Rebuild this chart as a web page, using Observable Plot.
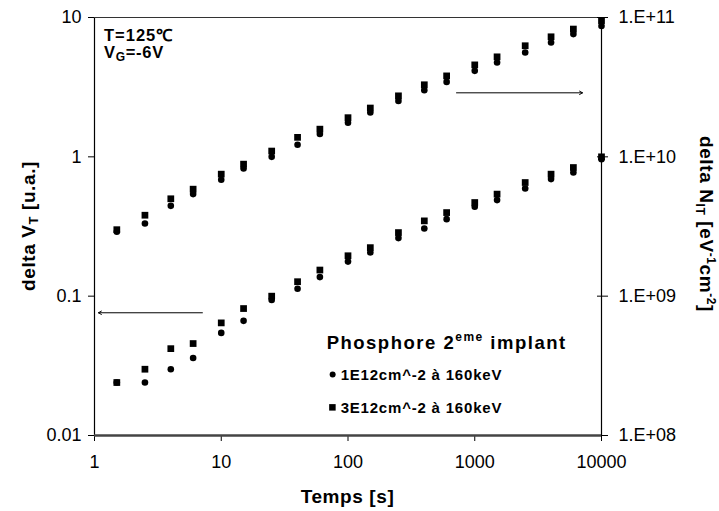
<!DOCTYPE html>
<html>
<head>
<meta charset="utf-8">
<script src="https://cdn.jsdelivr.net/npm/d3@7"></script>
<script src="https://cdn.jsdelivr.net/npm/@observablehq/plot@0.6"></script>
<style>
  html, body { margin: 0; padding: 0; background: #fff; }
  #chart svg { display: block; }
</style>
</head>
<body>
<div id="chart"></div>
<script>
// ---- data ----
const times = [1.5, 2.5, 4, 6, 10, 15, 25, 40, 60, 100, 150, 250, 400, 600, 1000, 1500, 2500, 4000, 6000, 10000];

// delta VT [u.a.] (left axis)
const vtDose1 = [0.024, 0.024, 0.0299, 0.036, 0.0545, 0.0665, 0.094, 0.113, 0.137, 0.177, 0.206, 0.261, 0.306, 0.357, 0.438, 0.489, 0.592, 0.692, 0.771, 0.96];
const vtDose3 = [0.024, 0.0299, 0.042, 0.0457, 0.0643, 0.0815, 0.100, 0.127, 0.154, 0.195, 0.223, 0.286, 0.347, 0.398, 0.47, 0.54, 0.654, 0.751, 0.838, 1.0];

// delta NIT [eV^-1 cm^-2] (right axis)
const nitDose1 = [2.9e9, 3.32e9, 4.45e9, 5.4e9, 6.84e9, 8.24e9, 1.0e10, 1.22e10, 1.46e10, 1.76e10, 2.08e10, 2.52e10, 3.01e10, 3.45e10, 4.14e10, 4.75e10, 5.61e10, 6.62e10, 7.6e10, 8.7e10];
const nitDose3 = [3.0e9, 3.81e9, 5.0e9, 5.86e9, 7.51e9, 8.86e9, 1.10e10, 1.38e10, 1.58e10, 1.91e10, 2.24e10, 2.74e10, 3.29e10, 3.81e10, 4.57e10, 5.22e10, 6.27e10, 7.27e10, 8.26e10, 9.5e10];

// right axis value = left axis value * 1e10
const rightPerLeft = 1e10;

const xTicks = [1, 10, 100, 1000, 10000];
const xTickLabels = ["1", "10", "100", "1000", "10000"];
const leftTicks = [0.01, 0.1, 1, 10];
const leftTickLabels = ["0.01", "0.1", "1", "10"];
const rightTickLabels = ["1.E+08", "1.E+09", "1.E+10", "1.E+11"];

const seriesLabels = ["1E12cm^-2 à 160keV", "3E12cm^-2 à 160keV"];

// annotation arrows (data units: time, left-axis value)
const arrowVT = {x1: 7.1, x2: 1.075, y: 0.076};
const arrowNIT = {x1: 718, x2: 7080, y: 2.88};

// ---- build tables ----
const rowsC = [
  ...times.map((t, i) => ({t, y: vtDose1[i]})),
  ...times.map((t, i) => ({t, y: nitDose1[i] / rightPerLeft}))
];
const rowsS = [
  ...times.map((t, i) => ({t, y: vtDose3[i]})),
  ...times.map((t, i) => ({t, y: nitDose3[i] / rightPerLeft}))
];
const arrows = [
  {x1: arrowVT.x1, x2: arrowVT.x2, y1: arrowVT.y, y2: arrowVT.y},
  {x1: arrowNIT.x1, x2: arrowNIT.x2, y1: arrowNIT.y, y2: arrowNIT.y}
];

const FONT = "'Liberation Sans', Arial, Helvetica, sans-serif";

const plot = Plot.plot({
  width: 719,
  height: 511,
  marginLeft: 94,
  marginRight: 118,
  marginTop: 17,
  marginBottom: 76,
  style: {fontFamily: FONT, fontSize: "18px", color: "#000", background: "#fff", overflow: "visible"},
  x: {type: "log", domain: [1, 10000]},
  y: {type: "log", domain: [0.01, 10]},
  marks: [
    Plot.ruleX([1], {stroke: "#000", strokeWidth: 1.2}),
    Plot.ruleX([10000], {stroke: "#000", strokeWidth: 1.2}),
    Plot.ruleY([10], {stroke: "#333", strokeWidth: 1.2}),
    Plot.axisY({ticks: leftTicks, tickFormat: d => leftTickLabels[leftTicks.indexOf(d)], tickSize: 6, tickPadding: 7, fontSize: 18, label: null}),
    Plot.axisY({anchor: "right", ticks: leftTicks, tickFormat: d => rightTickLabels[leftTicks.indexOf(d)], tickSize: 6, tickPadding: 11, fontSize: 18, label: null}),
    Plot.axisY({anchor: "right", ticks: leftTicks, tickFormat: () => "", tickSize: -5, tickPadding: 0, label: null}),
    Plot.axisX({ticks: xTicks, tickFormat: d => xTickLabels[xTicks.indexOf(d)], tickSize: 6, tickPadding: 14, fontSize: 18, label: null}),
    Plot.ruleY([0.01], {stroke: "#444", strokeWidth: 2.5}),
    Plot.arrow(arrows, {x1: "x1", y1: "y1", x2: "x2", y2: "y2", stroke: "#000", strokeWidth: 1, headLength: 5, bend: 0}),
    Plot.dot(rowsC, {x: "t", y: "y", r: 3.3, fill: "#000", symbol: "circle"}),
    Plot.dot(rowsS, {x: "t", y: "y", r: 3.8, fill: "#000", symbol: "square"})
  ]
});

document.getElementById("chart").appendChild(plot);

// ---- rich text (subscripts / superscripts) and legend ----
const sx = plot.scale("x"), sy = plot.scale("y");
const L = sx.apply(1), R = sx.apply(10000), T = sy.apply(10), B = sy.apply(0.01);
const svg = d3.select(plot);
const g = svg.append("g").attr("font-family", FONT).attr("fill", "#000").attr("text-anchor", "start");

// left axis title
const lt = g.append("text")
  .attr("transform", `translate(${L - 59},${(T + B) / 2}) rotate(-90)`)
  .attr("text-anchor", "middle").attr("font-weight", "bold").attr("font-size", 19).attr("letter-spacing", 0.6);
lt.append("tspan").text("delta V");
lt.append("tspan").attr("font-size", 13).attr("dy", 3).text("T");
lt.append("tspan").attr("dy", -3).text(" [u.a.]");

// right axis title
const rt = g.append("text")
  .attr("transform", `translate(${R + 99},${(T + B) / 2 - 2}) rotate(90)`)
  .attr("text-anchor", "middle").attr("font-weight", "bold").attr("font-size", 19).attr("letter-spacing", 0.6);
rt.append("tspan").text("delta N");
rt.append("tspan").attr("font-size", 12).attr("dy", 4).text("IT");
rt.append("tspan").attr("dy", -4).text(" [eV");
rt.append("tspan").attr("font-size", 12).attr("dy", -7).text("-1");
rt.append("tspan").attr("dy", 7).text("cm");
rt.append("tspan").attr("font-size", 12).attr("dy", -7).text("-2");
rt.append("tspan").attr("dy", 7).text("]");

// x axis title
g.append("text")
  .attr("x", (L + R) / 2).attr("y", B + 68)
  .attr("text-anchor", "middle").attr("font-weight", "bold").attr("font-size", 19).attr("letter-spacing", 0.6)
  .text("Temps [s]");

// conditions
g.append("text").attr("x", L + 10).attr("y", T + 24).attr("text-anchor", "start")
  .attr("font-weight", "bold").attr("font-size", 16.5).attr("letter-spacing", 1)
  .text("T=125℃");
const vg = g.append("text").attr("x", L + 10).attr("y", T + 41).attr("text-anchor", "start")
  .attr("font-weight", "bold").attr("font-size", 16.5).attr("letter-spacing", 0.7);
vg.append("tspan").text("V");
vg.append("tspan").attr("font-size", 12).attr("dy", 3).text("G");
vg.append("tspan").attr("dy", -3).text("=-6V");

// legend
const lx = sx.apply(200) - 55, ly = sy.apply(0.05) + 10;
const lg = g.append("text").attr("x", lx - 4).attr("y", ly + 1).attr("text-anchor", "start")
  .attr("font-weight", "bold").attr("font-size", 18.5).attr("letter-spacing", 1.5);
lg.append("tspan").text("Phosphore 2");
lg.append("tspan").attr("font-size", 12).attr("dy", -8).text("eme");
lg.append("tspan").attr("dy", 8).text(" implant");

g.append("circle").attr("cx", lx + 2).attr("cy", ly + 27).attr("r", 3);
g.append("text").attr("x", lx + 10).attr("y", ly + 32).attr("text-anchor", "start")
  .attr("font-weight", "bold").attr("font-size", 15).attr("letter-spacing", 0.8)
  .text(seriesLabels[0]);
g.append("rect").attr("x", lx - 1.5).attr("y", ly + 56.5).attr("width", 6.5).attr("height", 6.5);
g.append("text").attr("x", lx + 10).attr("y", ly + 65).attr("text-anchor", "start")
  .attr("font-weight", "bold").attr("font-size", 15).attr("letter-spacing", 0.8)
  .text(seriesLabels[1]);
</script>
</body>
</html>
